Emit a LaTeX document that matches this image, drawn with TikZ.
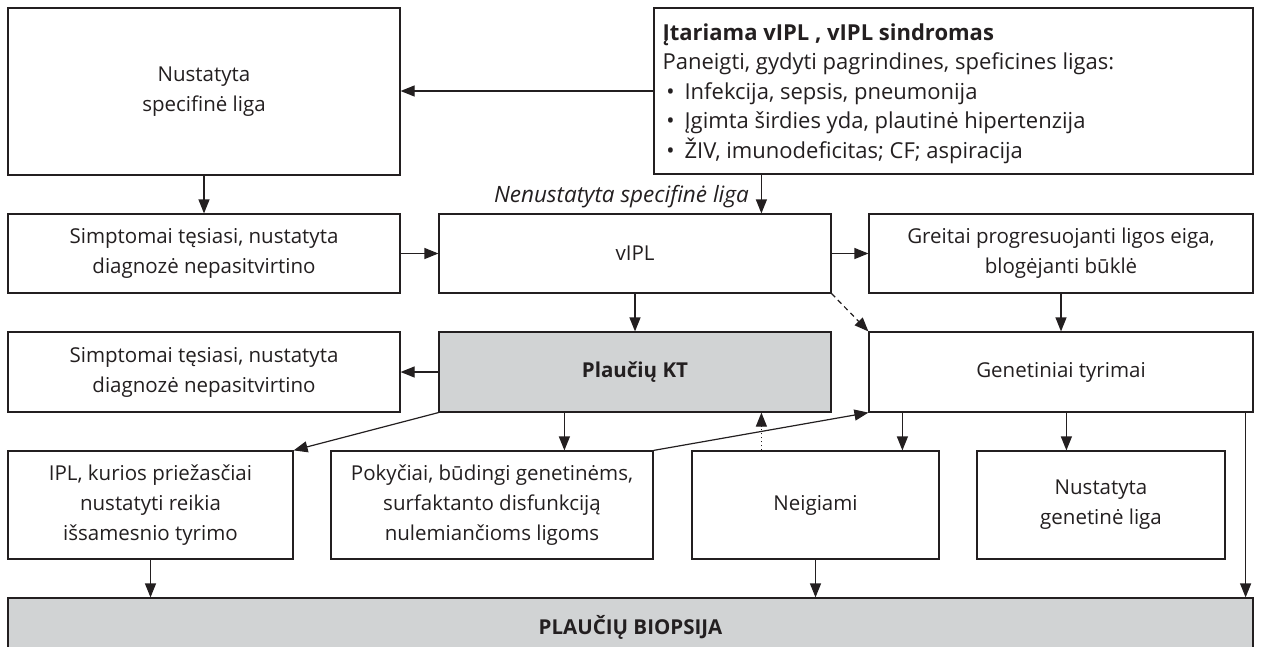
\documentclass[tikz,border=0pt]{standalone}
\usepackage{fontspec}
\setmainfont{Open Sans}
\usetikzlibrary{arrows.meta}
\definecolor{ink}{HTML}{231F20}
\definecolor{gfill}{HTML}{D1D3D4}
\begin{document}
\begin{tikzpicture}[x=1pt,y=-1pt,
  box/.style={draw=ink, line width=1.2pt, fill=white, inner sep=0pt, align=center,
    text=ink, font=\fontsize{20.5}{30}\selectfont},
  graybox/.style={box, fill=gfill, font=\fontsize{20.5}{30}\selectfont\bfseries},
  arr/.style={draw=ink, line width=1.2pt, -{Triangle[length=14pt,width=11pt]}}]
\useasboundingbox (0,0) rectangle (1261,646);
% row 1
\node[box, minimum width=392pt, minimum height=167pt] (A) at (204,91.5) {Nustatyta\\specifinė liga};
\node[box, minimum width=599pt, minimum height=166pt,
  label={[anchor=north west, align=left, inner sep=0pt, xshift=9pt, yshift=-16pt,
    text=ink, font=\fontsize{22}{29.5}\selectfont]north west:{%
  \textbf{Įtariama vIPL , vIPL sindromas}\\
  Paneigti, gydyti pagrindines, speficines ligas:\\
  \makebox[22pt][l]{\,•}Infekcija, sepsis, pneumonija\\
  \makebox[22pt][l]{\,•}Įgimta širdies yda, plautinė hipertenzija\\
  \makebox[22pt][l]{\,•}ŽIV, imunodeficitas; CF; aspiracija}}] (B) at (953.5,91) {};
% row 2
\node[box, minimum width=392pt, minimum height=79pt] (A2) at (204,253.5) {Simptomai tęsiasi, nustatyta\\diagnozė nepasitvirtino};
\node[box, minimum width=392pt, minimum height=79pt] (V) at (635,253.5) {vIPL};
\node[box, minimum width=384pt, minimum height=79pt] (G) at (1061,253.5) {Greitai progresuojanti ligos eiga,\\blogėjanti būklė};
% row 3
\node[box, minimum width=392pt, minimum height=80pt] (S3) at (204,372) {Simptomai tęsiasi, nustatyta\\diagnozė nepasitvirtino};
\node[graybox, minimum width=392pt, minimum height=80pt] (KT) at (635,372) {Plaučių KT};
\node[box, minimum width=384pt, minimum height=80pt] (GT) at (1061,372) {Genetiniai tyrimai};
% row 4
\node[box, minimum width=285pt, minimum height=108pt] (IPL) at (150.5,505) {IPL, kurios priežasčiai\\nustatyti reikia\\išsamesnio tyrimo};
\node[box, minimum width=322pt, minimum height=108pt] (PK) at (492,505) {Pokyčiai, būdingi genetinėms,\\surfaktanto disfunkciją\\nulemiančioms ligoms};
\node[box, minimum width=247pt, minimum height=108pt] (NG) at (815.5,505) {Neigiami};
\node[box, minimum width=248pt, minimum height=108pt] (NGL) at (1101,505) {Nustatyta\\genetinė liga};
% bottom
\node[graybox, minimum width=1245pt, minimum height=58pt] (BIO) at (630.5,627) {PLAUČIŲ BIOPSIJA};
% label
\node[anchor=east, inner sep=0pt, text=ink, font=\fontsize{22.5}{24}\selectfont\itshape] (lab) at (749,197) {Nenustatyta specifinė liga};
% connectors
\draw[arr] (B.west) -- (B.west -| A.east);
\draw[arr] (A.south) -- (A2.north);
\draw[arr] ([xshift=108pt]B.south west) -- ([xshift=108pt]B.south west |- V.north);
\draw[arr] (A2.east) -- (V.west);
\draw[arr] (V.east) -- (G.west);
\draw[arr] (V.south) -- (KT.north);
\draw[arr] (G.south) -- (GT.north);
\draw[arr, dash pattern=on 5pt off 4pt] (V.south east) -- (GT.north west);
\draw[arr] (KT.west) -- (S3.east);
\draw[arr] (KT.south west) -- (IPL.north east);
\draw[arr] ([xshift=126pt]KT.south west) -- ([xshift=126pt]KT.south west |- PK.north);
\draw[arr] (PK.north east) -- (GT.south west);
\draw[arr, dash pattern=on 1.5pt off 2.5pt] ([xshift=70pt]NG.north west) -- ([xshift=70pt]NG.north west |- KT.south);
\draw[arr] ([xshift=34pt]GT.south west) -- ([xshift=34pt]GT.south west |- NG.north);
\draw[arr] ([xshift=198pt]GT.south west) -- ([xshift=198pt]GT.south west |- NGL.north);
\draw[arr] ([xshift=-8pt]GT.south east) -- ([xshift=-8pt]GT.south east |- BIO.north);
\draw[arr] (IPL.south) -- (BIO.north -| IPL.south);
\draw[arr] (NG.south) -- (BIO.north -| NG.south);
\end{tikzpicture}
\end{document}
